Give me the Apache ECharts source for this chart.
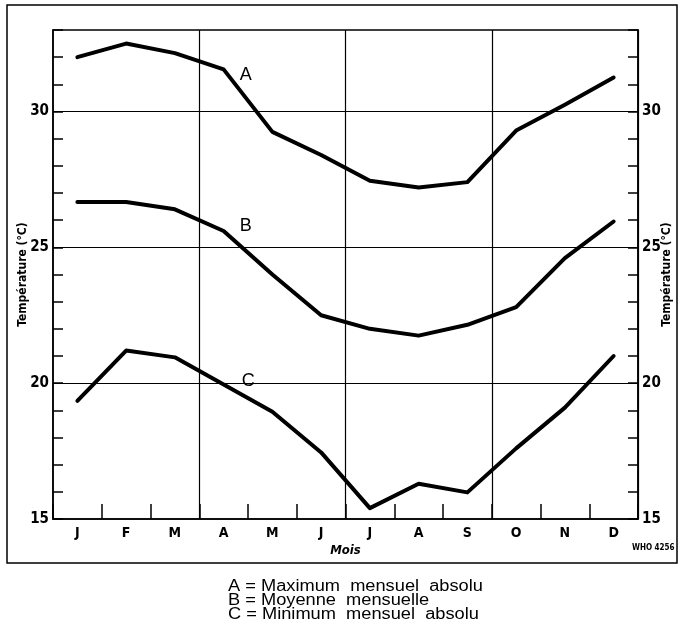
<!DOCTYPE html>
<html>
<head>
<meta charset="utf-8">
<script src="https://cdn.jsdelivr.net/npm/echarts@6/dist/echarts.min.js"></script>
<style>html,body{margin:0;padding:0;background:#fff;}#c{width:681px;height:637px;}</style>
</head>
<body>
<div id="c"></div>
<script>
const months = ['J','F','M','A','M','J','J','A','S','O','N','D'];
const seriesA = [32.0, 32.5, 32.15, 31.55, 29.25, 28.4, 27.45, 27.2, 27.4, 29.3, 30.25, 31.25];
const seriesB = [26.67, 26.67, 26.4, 25.6, 24.0, 22.5, 22.0, 21.75, 22.15, 22.8, 24.6, 25.95];
const seriesC = [19.35, 21.2, 20.95, 19.95, 18.95, 17.45, 15.4, 16.3, 15.98, 17.6, 19.1, 21.0];
const yTicks = [15, 20, 25, 30];
const legendLines = ['A = Maximum  mensuel  absolu', 'B = Moyenne  mensuelle', 'C = Minimum  mensuel  absolu'];
const seriesNames = ['A', 'B', 'C'];

const chart = echarts.init(document.getElementById('c'), null, {renderer: 'canvas'});
const FONT = 'DejaVu Sans Condensed';

function yAxisCfg(pos) {
  return {
    type: 'value', position: pos, min: 15, max: 33, interval: 1,
    name: 'Température (°C)', nameLocation: 'middle', nameGap: pos === 'left' ? 24 : 23,
    nameMoveOverlap: false,
    nameTextStyle: {fontFamily: FONT, fontWeight: 'bold', fontSize: 12, color: '#000'},
    axisLine: {show: true, lineStyle: {color: '#000', width: 1.5}},
    axisTick: {show: true, inside: true, length: 10, lineStyle: {color: '#000', width: 1.5}},
    axisLabel: {fontFamily: FONT, fontWeight: 'bold', fontSize: 15, color: '#000', margin: 4,
      formatter: v => yTicks.indexOf(v) >= 0 ? String(v) : ''},
    splitLine: {show: false}
  };
}

function mkData(arr, name, off) {
  return arr.map((v, i) => i === 3 ? {value: v, label: {show: true, formatter: name, position: 'right', offset: off,
    fontFamily: 'Liberation Sans', fontSize: 18, color: '#000'}} : v);
}

const hLines = yTicks.slice(1).map(v => ({yAxis: v}));
const lineCommon = {type: 'line', showSymbol: true, symbol: 'circle', symbolSize: 0,
  lineStyle: {color: '#000', width: 4, join: 'round', cap: 'round'}, itemStyle: {color: '#000'}};

chart.setOption({
  animation: false,
  backgroundColor: '#fff',
  grid: {left: 53, right: 43, top: 30, bottom: 118, outerBoundsMode: 'none', containLabel: false,
    show: true, borderColor: '#000', borderWidth: 1.5, backgroundColor: 'transparent'},
  xAxis: {
    type: 'category', data: months, boundaryGap: true,
    name: 'Mois', nameLocation: 'middle', nameGap: 25, nameMoveOverlap: false,
    nameTextStyle: {fontFamily: FONT, fontWeight: 'bold', fontStyle: 'italic', fontSize: 13, color: '#000'},
    axisLine: {lineStyle: {color: '#000', width: 1.5}},
    axisTick: {show: true, inside: true, length: 15, lineStyle: {color: '#000', width: 1.5}},
    axisLabel: {fontFamily: FONT, fontWeight: 'bold', fontSize: 14, color: '#000', margin: 7},
    splitLine: {show: true, interval: (i) => i === 3 || i === 6 || i === 9, lineStyle: {color: '#000', width: 1.2}}
  },
  yAxis: [yAxisCfg('left'), yAxisCfg('right')],
  series: [
    Object.assign({name: seriesNames[0], data: mkData(seriesA, 'A', [11, 6]),
      markLine: {silent: true, symbol: 'none', label: {show: false}, lineStyle: {color: '#000', width: 1.2, type: 'solid'}, data: hLines}}, lineCommon),
    Object.assign({name: seriesNames[1], data: mkData(seriesB, 'B', [11, -5])}, lineCommon),
    Object.assign({name: seriesNames[2], data: mkData(seriesC, 'C', [13, -3])}, lineCommon)
  ],
  graphic: [
    {type: 'rect', shape: {x: 7, y: 5, width: 670, height: 558}, style: {fill: null, stroke: '#000', lineWidth: 1.5}, silent: true, z: 0},
    {type: 'text', left: 632, top: 544, style: {text: 'WHO 4256', font: 'bold 8px "DejaVu Sans Condensed"', fill: '#000'}},
    {type: 'text', x: 228, y: 580, scaleX: 1.14, style: {text: legendLines.join('\n'), font: '16px "Liberation Sans"', lineHeight: 14, fill: '#000'}}
  ]
});
</script>
</body>
</html>
